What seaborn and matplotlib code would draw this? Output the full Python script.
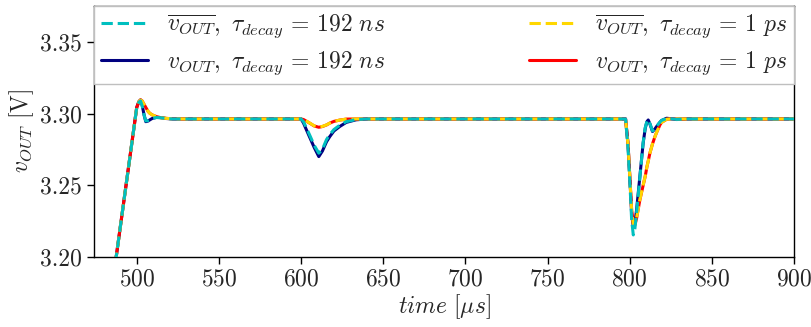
import pandas as pd
import matplotlib.pyplot as plt
import seaborn as sns

# time axis in microseconds
time_us = [474, 487, 500, 501.3, 502.3, 503.3, 504.5, 505.5, 507, 508, 509.5, 512, 515, 518, 522, 530,
           600, 601.5, 603.3, 605.5, 608, 610.8, 613, 615.5, 617.5, 620, 623.5, 627.5, 633.5, 640,
           797.5, 799, 800.2, 801.2, 802.2, 803.2, 804.2, 806.2, 808.2, 809.5, 810.5, 811.3, 812.3,
           813.9, 815.4, 816.4, 818.4, 819.4, 822.5, 825.5, 828.6, 835, 900]

# v_OUT, tau_decay = 192 ns
v_out_192ns = [3.088, 3.196, 3.3045, 3.3085, 3.3097, 3.3060, 3.2990, 3.2945, 3.2950, 3.2958, 3.2968, 3.2975,
               3.2973, 3.2967, 3.2964, 3.2964,
               3.2964, 3.2935, 3.2887, 3.2830, 3.2765, 3.2701, 3.2740, 3.2805, 3.2841, 3.2880, 3.2911,
               3.2940, 3.2958, 3.2964,
               3.2964, 3.2790, 3.2530, 3.2300, 3.2212, 3.2240, 3.2328, 3.2561, 3.2795, 3.2900, 3.2945,
               3.2957, 3.2930, 3.2876, 3.2895, 3.2911, 3.2940, 3.2953, 3.2969, 3.2965, 3.2960, 3.2964, 3.2964]

# mean v_OUT, tau_decay = 192 ns
v_mean_192ns = [3.088, 3.196, 3.3045, 3.3080, 3.3090, 3.3055, 3.2990, 3.2950, 3.2953, 3.2960, 3.2968, 3.2974,
                3.2972, 3.2966, 3.2964, 3.2964,
                3.2964, 3.2945, 3.2900, 3.2845, 3.2780, 3.2725, 3.2752, 3.2820, 3.2855, 3.2890, 3.2920,
                3.2945, 3.2960, 3.2964,
                3.2964, 3.2760, 3.2500, 3.2260, 3.2154, 3.2200, 3.2310, 3.2555, 3.2800, 3.2905, 3.2948,
                3.2958, 3.2932, 3.2880, 3.2898, 3.2913, 3.2942, 3.2954, 3.2968, 3.2965, 3.2961, 3.2964, 3.2964]

# v_OUT, tau_decay = 1 ps
v_out_1ps = [3.088, 3.196, 3.3045, 3.3085, 3.3098, 3.3090, 3.3065, 3.3045, 3.3015, 3.3003, 3.2992, 3.2980,
             3.2972, 3.2968, 3.2965, 3.2964,
             3.2964, 3.2960, 3.2948, 3.2933, 3.2915, 3.2906, 3.2911, 3.2922, 3.2935, 3.2947, 3.2956,
             3.2963, 3.2964, 3.2964,
             3.2964, 3.2790, 3.2540, 3.2330, 3.2235, 3.2224, 3.2270, 3.2398, 3.2500, 3.2565, 3.2630,
             3.2670, 3.2725, 3.2790, 3.2841, 3.2870, 3.2922, 3.2940, 3.2962, 3.2965, 3.2964, 3.2964, 3.2964]

# mean v_OUT, tau_decay = 1 ps
v_mean_1ps = [3.088, 3.196, 3.3045, 3.3084, 3.3096, 3.3089, 3.3064, 3.3044, 3.3015, 3.3003, 3.2992, 3.2980,
              3.2972, 3.2968, 3.2965, 3.2964,
              3.2964, 3.2960, 3.2949, 3.2934, 3.2916, 3.2908, 3.2912, 3.2923, 3.2935, 3.2947, 3.2956,
              3.2963, 3.2964, 3.2964,
              3.2964, 3.2785, 3.2535, 3.2325, 3.2232, 3.2226, 3.2272, 3.2400, 3.2502, 3.2566, 3.2630,
              3.2670, 3.2725, 3.2790, 3.2841, 3.2870, 3.2922, 3.2940, 3.2962, 3.2965, 3.2964, 3.2964, 3.2964]

x_ticks = [500, 550, 600, 650, 700, 750, 800, 850, 900]
y_ticks = [3.20, 3.25, 3.30, 3.35]

df = pd.DataFrame({
    'time': time_us,
    'v_192': v_out_192ns,
    'vm_192': v_mean_192ns,
    'v_1ps': v_out_1ps,
    'vm_1ps': v_mean_1ps,
})

sns.set_style('ticks')
plt.rcParams['font.family'] = ['cmr10']
plt.rcParams['mathtext.fontset'] = 'cm'
plt.rcParams['axes.formatter.use_mathtext'] = True
fs = 17
plt.rcParams['font.size'] = fs

fig, ax = plt.subplots(figsize=(8.12, 3.27), dpi=100)
fig.subplots_adjust(left=0.1158, right=0.9778, top=0.9826, bottom=0.2141)

lw = 2.2
sns.lineplot(data=df, x='time', y='v_192', color='navy', linewidth=lw, ax=ax, zorder=2,
             label=r'$v_{OUT},\ \tau_{decay}\,=\,192\ ns$')
sns.lineplot(data=df, x='time', y='v_1ps', color='red', linewidth=lw, ax=ax, zorder=3,
             label=r'$v_{OUT},\ \tau_{decay}\,=\,1\ ps$')
sns.lineplot(data=df, x='time', y='vm_1ps', color='gold', linewidth=lw, linestyle='--', ax=ax, zorder=4,
             label=r'$\overline{v_{OUT}},\ \tau_{decay}\,=\,1\ ps$')
sns.lineplot(data=df, x='time', y='vm_192', color='c', linewidth=lw, linestyle='--', ax=ax, zorder=5,
             label=r'$\overline{v_{OUT}},\ \tau_{decay}\,=\,192\ ns$')

ax.set_xlim(474, 900)
ax.set_ylim(3.20, 3.3755)
ax.set_xticks(x_ticks)
ax.set_yticks(y_ticks)
ax.yaxis.set_major_formatter(plt.FormatStrFormatter('%.2f'))
ax.set_xlabel(r'$time\ [\mu s]$', fontsize=fs, labelpad=1)
ax.set_ylabel(r'$v_{OUT}$ [V]', fontsize=fs, labelpad=3)
ax.tick_params(labelsize=fs, length=5, width=1, color='black')
for sp in ax.spines.values():
    sp.set_color('black')
    sp.set_linewidth(1)

handles, labels = ax.get_legend_handles_labels()
order = [3, 0, 2, 1]
ax.legend([handles[i] for i in order], [labels[i] for i in order], ncol=2, loc='upper left',
          bbox_to_anchor=(0, 1, 1, 0), mode='expand', borderaxespad=0, fancybox=False,
          edgecolor='0.75', framealpha=1, fontsize=fs, handlelength=2.0, labelspacing=0.4,
          borderpad=0.3)

fig.savefig('out.png', dpi=100)
plt.close(fig)
